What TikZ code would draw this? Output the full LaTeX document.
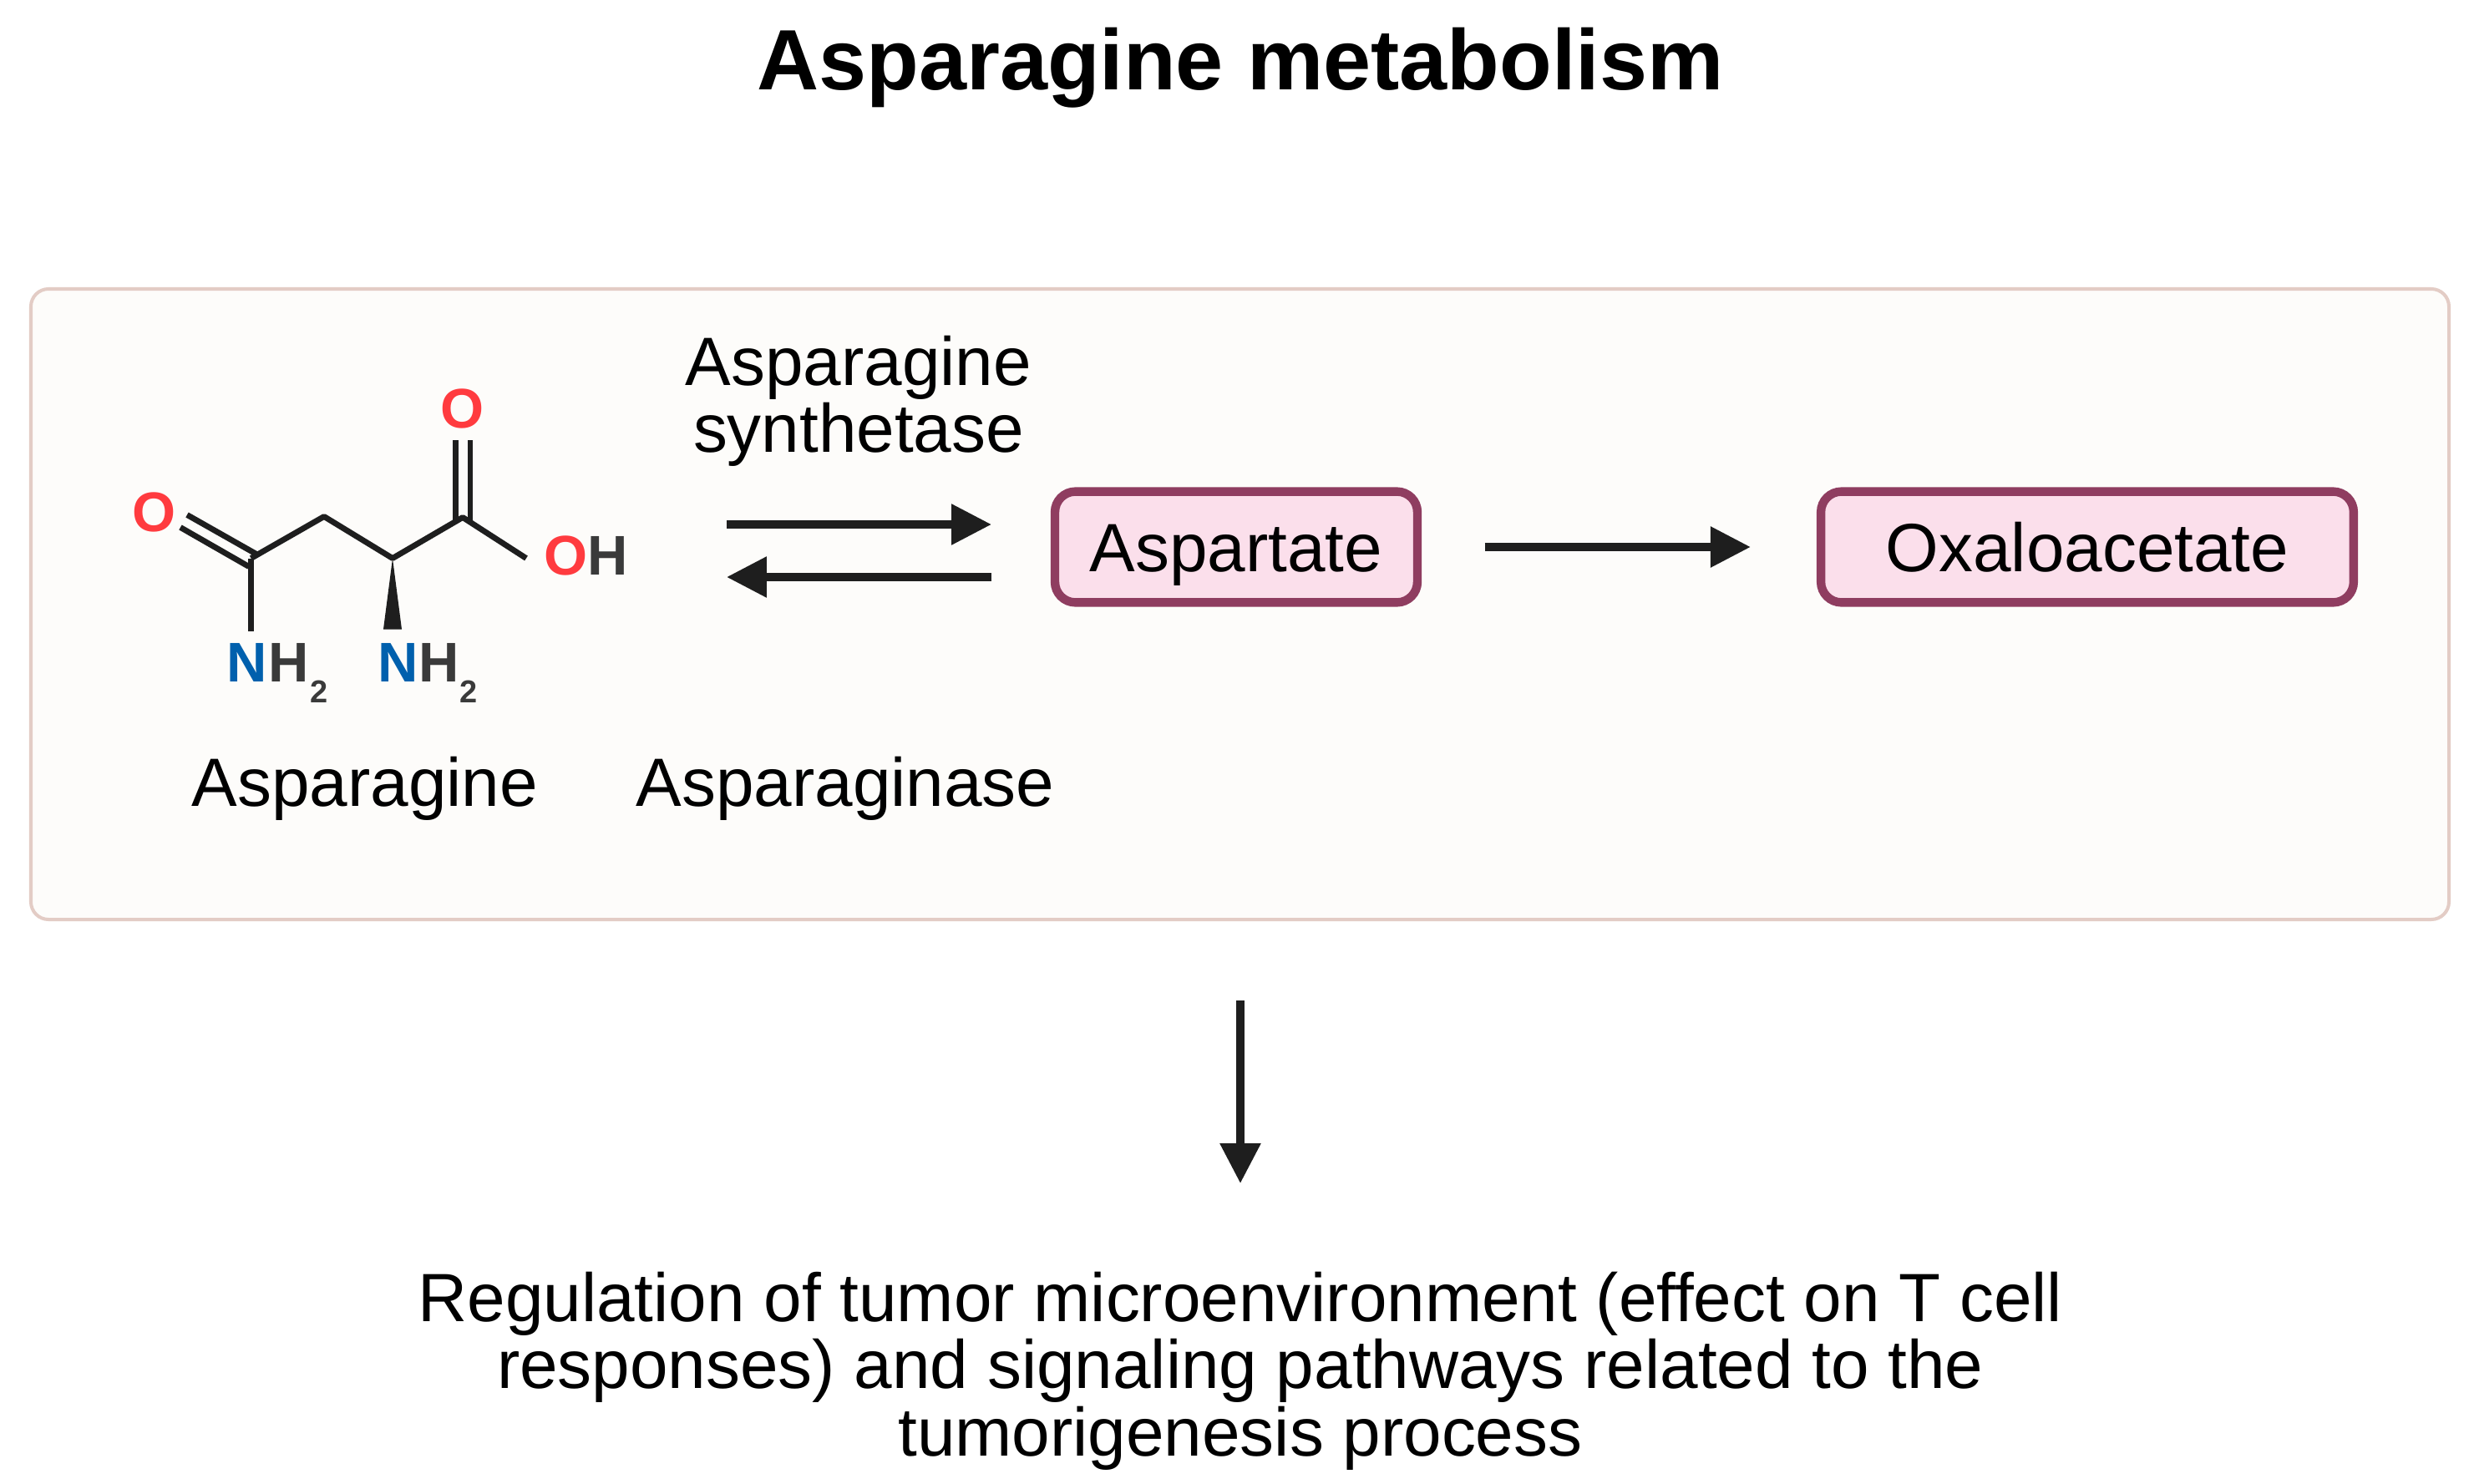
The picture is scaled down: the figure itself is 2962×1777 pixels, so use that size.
\documentclass[tikz,border=0pt]{standalone}
\usepackage{fontspec}
\setmainfont{Liberation Sans}
\usetikzlibrary{arrows.meta}
\definecolor{panelfill}{HTML}{FDFCFA}
\definecolor{paneledge}{HTML}{E3CCC5}
\definecolor{boxfill}{HTML}{FBDFEB}
\definecolor{boxedge}{HTML}{8F3D60}
\definecolor{ink}{HTML}{1E1E1E}
\definecolor{oxy}{HTML}{FF3B3F}
\definecolor{nit}{HTML}{0060AD}
\definecolor{hyd}{HTML}{3A3A3A}
\tikzset{
  x=0.02cm,y=-0.02cm,
  lab/.style={anchor=base,inner sep=0pt,outer sep=0pt,text=black,font=\fontsize{46.6}{47}\selectfont,align=center},
  ttl/.style={anchor=base,inner sep=0pt,text=black,font=\fontsize{58.4}{60}\selectfont\bfseries},
  metab/.style={draw=boxedge,fill=boxfill,line width=5.9pt,rounded corners=14pt,minimum height=75.6pt,inner sep=0pt,text height=34.1pt,text depth=0pt,text=black,font=\fontsize{46.6}{47}\selectfont},
  arr/.style={draw=ink,line width=5.3pt,-{Triangle[length=27.3pt,width=26.7pt]}},
  bond/.style={draw=ink,line width=3.9pt},
  atom/.style={inner sep=0pt,outer sep=0pt,font=\fontsize{38.1}{38}\selectfont\bfseries},
  sub/.style={inner sep=0pt,outer sep=0pt,text=hyd,font=\fontsize{21.6}{22}\selectfont\bfseries},
}
\begin{document}
\begin{tikzpicture}
\useasboundingbox (0,0) rectangle (2962,1777);
\fill[white] (0,0) rectangle (2962,1777);
\node[ttl] (title) at (1485,108) {Asparagine metabolism};
\draw[draw=paneledge,fill=panelfill,line width=2.28pt,rounded corners=12pt] (37,346) rectangle (2932,1101);
% molecule
\begin{scope}[shift={(0,1.5)}]
\coordinate (c4) at (300.6,667);
\coordinate (c3) at (388,617);
\coordinate (ca) at (470,667);
\coordinate (c1) at (554,618);
\coordinate (oh) at (630,667);
\coordinate (nb) at (300.6,754);
\draw[bond,line join=round] (c4) -- (c3) -- (ca) -- (c1) -- (oh);
\draw[bond] (c4) -- (nb);
\coordinate (d1a) at (224,615); \coordinate (d1b) at (307,662);
\coordinate (d2a) at (216,630); \coordinate (d2b) at (298,677);
\draw[bond] (d1a) -- (d1b);
\draw[bond] (d2a) -- (d2b);
\coordinate (d3a) at (545.6,622); \coordinate (d3b) at (545.6,525);
\coordinate (d4a) at (563,622); \coordinate (d4b) at (563,525);
\draw[bond] (d3a) -- (d3b);
\draw[bond] (d4a) -- (d4b);
\fill[ink] (ca) -- (459,752) -- (481,752) -- cycle;
\node[atom,text=oxy] (o1) at (185,612) {O};
\node[atom,text=oxy] (o2) at (554,488) {O};
\node[atom,text=oxy] (o3) at (678,664) {O};
\node[atom,text=hyd] (h3) at (728,664) {H};
\node[atom,text=nit] (n1) at (296,792) {N};
\node[atom,text=hyd] (h1) at (346,792) {H};
\node[sub] (s1) at (382,827) {2};
\node[atom,text=nit] (n2) at (476.5,792) {N};
\node[atom,text=hyd] (h2) at (526,792) {H};
\node[sub] (s2) at (561,827) {2};
\end{scope}
% labels
\node[lab] (syn) at (1028,461) {Asparagine};
\node[lab] (syn2) at (1028,541) {synthetase};
\node[lab] (asn) at (437,965) {Asparagine};
\node[lab] (ase) at (1012,965) {Asparaginase};
% metabolites
\node[metab,minimum width=247pt] (asp) at (1480,655) {Aspartate};
\node[metab,minimum width=363pt] (oxa) at (2499,655) {Oxaloacetate};
% arrows
\coordinate (r1) at (870,628);
\coordinate (r2) at (1187,628);
\coordinate (r3) at (1187,691);
\coordinate (r4) at (870,691);
\draw[arr] (r1) -- (r2);
\draw[arr] (r3) -- (r4);
\draw[arr,shorten <=43pt,shorten >=45pt] (asp.east) -- (oxa.west);
\coordinate (dn1) at (1485,1198);
\node[lab] (reg1) at (1485,1582) {Regulation of tumor microenvironment (effect on T cell};
\node[lab] (reg2) at (1485,1662) {responses) and signaling pathways related to the};
\node[lab] (reg3) at (1485,1743) {tumorigenesis process};
\coordinate (dn2) at (1485,1417);
\draw[arr] (dn1) -- (dn2);
\end{tikzpicture}
\end{document}
